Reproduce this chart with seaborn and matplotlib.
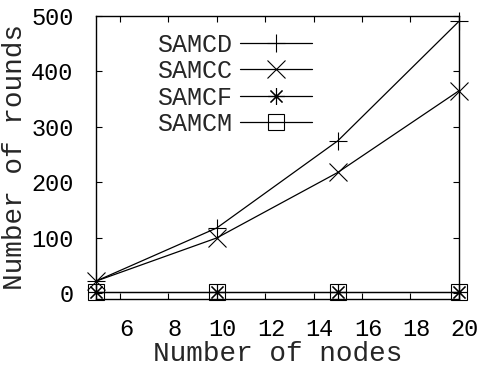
import matplotlib
matplotlib.use("Agg")
import matplotlib.pyplot as plt
import matplotlib.transforms as mtrans
import seaborn as sns
import pandas as pd

nodes = [5, 10, 15, 20]
samcd = [22, 118, 275, 490]
samcc = [22, 100, 218, 365]
samcf = [2, 2, 2, 2]
samcm = [2, 2, 2, 2]
series_names = ["SAMCD", "SAMCC", "SAMCF", "SAMCM"]
x_ticks = [6, 8, 10, 12, 14, 16, 18, 20]
y_ticks = [0, 100, 200, 300, 400, 500]

rows = []
for name, vals in zip(series_names, [samcd, samcc, samcf, samcm]):
    for n, v in zip(nodes, vals):
        rows.append({"nodes": n, "rounds": v, "series": name})
df = pd.DataFrame(rows)

sns.set_theme(style="ticks")
plt.rcParams['font.family'] = ['Liberation Mono', 'DejaVu Sans']

fig = plt.figure(figsize=(4.84, 3.70), dpi=100)
ax = fig.add_axes([0.198, 0.192, 0.75, 0.765])

markers = {"SAMCD": "+", "SAMCC": "x", "SAMCF": (8, 2, 0), "SAMCM": "s"}
sizes = {"SAMCD": 13, "SAMCC": 13, "SAMCF": 12, "SAMCM": 11}
for name in series_names:
    sub = df[df.series == name]
    sns.lineplot(data=sub, x="nodes", y="rounds", ax=ax, color="black",
                 linewidth=0.9, marker=markers[name], markersize=sizes[name],
                 markerfacecolor="none", markeredgecolor="black",
                 markeredgewidth=0.8, label=name, legend=False, clip_on=False)

ax.set_xlim(5, 20)
ax.set_ylim(-10, 500)
ax.set_xticks(x_ticks)
ax.set_yticks(y_ticks)
ax.tick_params(direction="in", length=4, width=0.8, top=True, right=True,
               labelsize=17, colors="black", pad=14)
ax.tick_params(axis="y", pad=16)
off = mtrans.ScaledTranslation(6/100, 0, fig.dpi_scale_trans)
for lab in ax.get_xticklabels():
    lab.set_transform(lab.get_transform() + off)
for s in ax.spines.values():
    s.set_linewidth(1.0)
    s.set_color("black")
ax.set_xlabel("Number of nodes", fontsize=20, labelpad=0)
ax.set_ylabel("Number of rounds", fontsize=20, labelpad=2)

leg = ax.legend(loc="upper left", bbox_to_anchor=(0.135, 0.985), frameon=False,
                markerfirst=False, fontsize=18, handlelength=2.9,
                handletextpad=0.3, labelspacing=0.1, borderpad=0)

fig.savefig("out.png", dpi=100)
